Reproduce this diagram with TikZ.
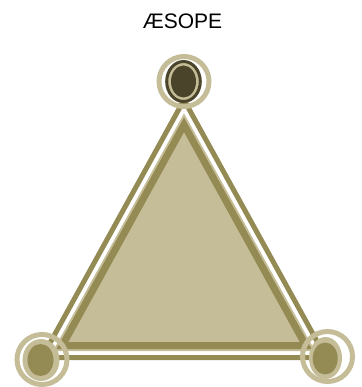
\documentclass[tikz,border=0pt]{standalone}
\usepackage{fontspec}
\setmainfont{Liberation Sans}
\usetikzlibrary{calc}

\definecolor{tan}{HTML}{C4BD97}
\definecolor{olive}{HTML}{948A54}
\definecolor{darkolive}{HTML}{4A452A}

\tikzset{
  ring/.style={draw=tan, line width=5pt},
  edge/.style={draw=olive, line join=miter},
}

\begin{document}
\begin{tikzpicture}[x=1pt, y=-1pt]
\useasboundingbox (0,0) rectangle (361,387);
\node[anchor=base, font=\fontsize{21}{24}\selectfont] (title) at (182.5,28.5) {ÆSOPE};
% corners of the triangle and its incentre
\coordinate (A) at (184,100);
\coordinate (B) at (42,357.5);
\coordinate (C) at (326,357.5);
\coordinate (I) at (184,273.65);
% outer band
\draw[edge, line width=5pt] (A) -- (B) -- (C) -- cycle;
% inner fill and its border
\fill[tan] ($(I)!0.9225!(A)$) -- ($(I)!0.9225!(B)$) -- ($(I)!0.9225!(C)$) -- cycle;
\draw[edge, line width=7pt] ($(I)!0.857!(A)$) -- ($(I)!0.857!(B)$) -- ($(I)!0.857!(C)$) -- cycle;
% top vertex
\draw[ring] (184,81.5) circle (25);
\draw[fill=tan, draw=darkolive, line width=3pt] (183.5,81.5) ellipse (16.8 and 20);
\fill[darkolive] (183.5,81.5) ellipse (12.5 and 16);
% bottom left vertex
\draw[ring] (42,359.5) circle (25);
\fill[tan] (41,360) ellipse (18.5 and 21);
\fill[olive] (40.5,360) ellipse (13 and 16);
% bottom right vertex
\draw[ring] (327.5,356.5) circle (25);
\fill[tan] (325.5,358) ellipse (16.5 and 21);
\fill[olive] (325.2,358.5) ellipse (12.5 and 16);
\end{tikzpicture}
\end{document}
